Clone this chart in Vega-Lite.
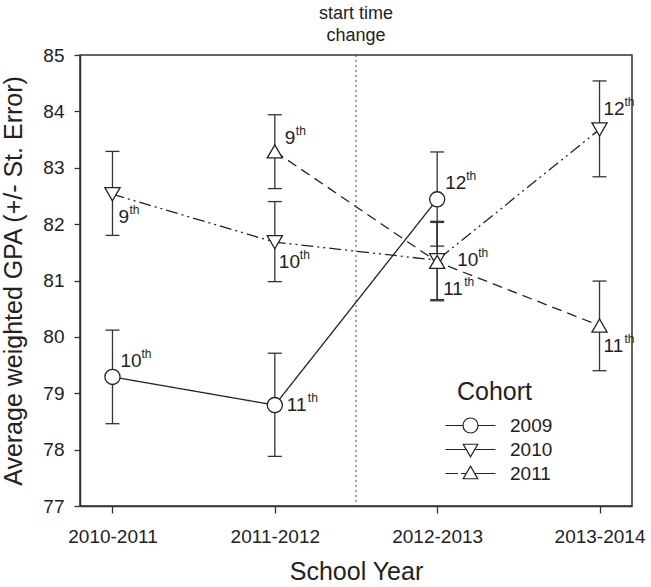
{
  "$schema": "https://vega.github.io/schema/vega-lite/v6.json",
  "width": 552,
  "height": 451,
  "autosize": {"type": "none"},
  "padding": {"left": 80, "top": 55, "right": 19, "bottom": 81},
  "background": "white",
  "config": {
    "font": "Liberation Sans",
    "view": {"stroke": "#333", "strokeWidth": 1.5},
    "axis": {"labelColor": "#222", "titleColor": "#222", "tickColor": "#333", "domainColor": "#333", "grid": false, "titleFontWeight": "normal", "labelFontSize": 19, "titleFontSize": 25, "tickWidth": 1.3, "domainWidth": 1.5},
    "text": {"color": "#222", "align": "left", "baseline": "alphabetic"}
  },
  "title": {"text": ["start time", "change"], "fontSize": 18, "fontWeight": "normal", "color": "#222", "anchor": "middle", "offset": 1, "lineHeight": 22},
  "layer": [
    {
      "data": {"values": [
        {"Cohort": "2009", "Year": "2010-2011", "GPA": 79.29, "Lo": 78.46, "Hi": 80.12, "Grade": "10"},
        {"Cohort": "2009", "Year": "2011-2012", "GPA": 78.79, "Lo": 77.88, "Hi": 79.71, "Grade": "11"},
        {"Cohort": "2009", "Year": "2012-2013", "GPA": 82.44, "Lo": 81.61, "Hi": 83.28, "Grade": "12"},
        {"Cohort": "2010", "Year": "2010-2011", "GPA": 82.53, "Lo": 81.80, "Hi": 83.29, "Grade": "9"},
        {"Cohort": "2010", "Year": "2011-2012", "GPA": 81.68, "Lo": 80.98, "Hi": 82.40, "Grade": "10"},
        {"Cohort": "2010", "Year": "2012-2013", "GPA": 81.36, "Lo": 80.66, "Hi": 82.05, "Grade": "11"},
        {"Cohort": "2010", "Year": "2013-2014", "GPA": 83.68, "Lo": 82.84, "Hi": 84.54, "Grade": "12"},
        {"Cohort": "2011", "Year": "2011-2012", "GPA": 83.29, "Lo": 82.63, "Hi": 83.94, "Grade": "9"},
        {"Cohort": "2011", "Year": "2012-2013", "GPA": 81.33, "Lo": 80.64, "Hi": 82.03, "Grade": "10"},
        {"Cohort": "2011", "Year": "2013-2014", "GPA": 80.20, "Lo": 79.40, "Hi": 80.99, "Grade": "11"}
      ]},
      "encoding": {
        "x": {"field": "Year", "type": "ordinal", "sort": "ascending", "scale": {"type": "point", "padding": 0.2},
              "axis": {"title": "School Year", "labelAngle": 0, "tickSize": 7, "labelPadding": 14, "titlePadding": 13}},
        "y": {"field": "GPA", "type": "quantitative", "scale": {"domain": [77, 85], "nice": false, "zero": false},
              "axis": {"title": "Average weighted GPA (+/- St. Error)", "values": [77, 78, 79, 80, 81, 82, 83, 84, 85], "tickSize": 6, "labelPadding": 10, "titlePadding": 16}}
      },
      "layer": [
        {
          "mark": {"type": "line", "color": "#222", "strokeWidth": 1.3},
          "encoding": {
            "strokeDash": {"field": "Cohort", "type": "nominal", "scale": {"domain": ["2009", "2010", "2011"], "range": [[1, 0], [12, 4, 2, 4, 2, 4], [10, 6]]}, "legend": null}
          }
        },
        {
          "mark": {"type": "rule", "color": "#333", "strokeWidth": 1.3},
          "encoding": {
            "y": {"field": "Lo", "type": "quantitative", "title": "Average weighted GPA (+/- St. Error)"},
            "y2": {"field": "Hi"}
          }
        },
        {
          "mark": {"type": "tick", "orient": "horizontal", "size": 14, "thickness": 1.3, "color": "#333", "opacity": 1},
          "encoding": {"y": {"field": "Lo", "type": "quantitative", "title": "Average weighted GPA (+/- St. Error)"}}
        },
        {
          "mark": {"type": "tick", "orient": "horizontal", "size": 14, "thickness": 1.3, "color": "#333", "opacity": 1},
          "encoding": {"y": {"field": "Hi", "type": "quantitative", "title": "Average weighted GPA (+/- St. Error)"}}
        },
        {
          "mark": {"type": "point", "fill": "white", "stroke": "#222", "strokeWidth": 1.3, "size": 230, "opacity": 1},
          "encoding": {
            "shape": {"field": "Cohort", "type": "nominal", "scale": {"domain": ["2009", "2010", "2011"], "range": ["circle", "triangle-down", "triangle-up"]}, "legend": null}
          }
        },
        {"transform": [{"filter": "datum.Cohort == '2009' && datum.Year != '2011-2012'"}],
         "mark": {"type": "text", "dx": 8, "dy": -10, "fontSize": 19}, "encoding": {"text": {"field": "Grade"}}},
        {"transform": [{"filter": "datum.Cohort == '2009' && datum.Year != '2011-2012'"}],
         "mark": {"type": "text", "text": "th", "dx": 29, "dy": -19, "fontSize": 12}},
        {"transform": [{"filter": "datum.Cohort == '2010' && datum.Year == '2013-2014'"}],
         "mark": {"type": "text", "dx": 4, "dy": -14, "fontSize": 19}, "encoding": {"text": {"field": "Grade"}}},
        {"transform": [{"filter": "datum.Cohort == '2010' && datum.Year == '2013-2014'"}],
         "mark": {"type": "text", "text": "th", "dx": 25, "dy": -23, "fontSize": 12}},
        {"transform": [{"filter": "datum.Cohort == '2011' && datum.Year == '2011-2012'"}],
         "mark": {"type": "text", "dx": 10, "dy": -7, "fontSize": 19}, "encoding": {"text": {"field": "Grade"}}},
        {"transform": [{"filter": "datum.Cohort == '2011' && datum.Year == '2011-2012'"}],
         "mark": {"type": "text", "text": "th", "dx": 21, "dy": -16, "fontSize": 12}},
        {"transform": [{"filter": "datum.Cohort == '2009' && datum.Year == '2011-2012'"}],
         "mark": {"type": "text", "dx": 12, "dy": 6, "fontSize": 19}, "encoding": {"text": {"field": "Grade"}}},
        {"transform": [{"filter": "datum.Cohort == '2009' && datum.Year == '2011-2012'"}],
         "mark": {"type": "text", "text": "th", "dx": 33, "dy": -3, "fontSize": 12}},
        {"transform": [{"filter": "datum.Cohort == '2011' && datum.Year == '2012-2013'"}],
         "mark": {"type": "text", "dx": 20, "dy": 4, "fontSize": 19}, "encoding": {"text": {"field": "Grade"}}},
        {"transform": [{"filter": "datum.Cohort == '2011' && datum.Year == '2012-2013'"}],
         "mark": {"type": "text", "text": "th", "dx": 41, "dy": -5, "fontSize": 12}},
        {"transform": [{"filter": "datum.Cohort == '2010' && datum.Year == '2010-2011'"}],
         "mark": {"type": "text", "dx": 6, "dy": 29, "fontSize": 19}, "encoding": {"text": {"field": "Grade"}}},
        {"transform": [{"filter": "datum.Cohort == '2010' && datum.Year == '2010-2011'"}],
         "mark": {"type": "text", "text": "th", "dx": 17, "dy": 20, "fontSize": 12}},
        {"transform": [{"filter": "(datum.Cohort == '2010' && datum.Year == '2011-2012') || (datum.Cohort == '2011' && datum.Year == '2013-2014')"}],
         "mark": {"type": "text", "dx": 4, "dy": 26, "fontSize": 19}, "encoding": {"text": {"field": "Grade"}}},
        {"transform": [{"filter": "(datum.Cohort == '2010' && datum.Year == '2011-2012') || (datum.Cohort == '2011' && datum.Year == '2013-2014')"}],
         "mark": {"type": "text", "text": "th", "dx": 25, "dy": 17, "fontSize": 12}},
        {"transform": [{"filter": "datum.Cohort == '2010' && datum.Year == '2012-2013'"}],
         "mark": {"type": "text", "dx": 6, "dy": 35, "fontSize": 19}, "encoding": {"text": {"field": "Grade"}}},
        {"transform": [{"filter": "datum.Cohort == '2010' && datum.Year == '2012-2013'"}],
         "mark": {"type": "text", "text": "th", "dx": 27, "dy": 26, "fontSize": 12}},
        {
          "transform": [{"filter": "datum.GPA < 0"}],
          "mark": {"type": "point", "filled": false, "stroke": "#222", "opacity": 1},
          "encoding": {
            "shape": {"field": "Cohort", "type": "nominal",
              "scale": {"domain": ["2009", "2010", "2011"], "range": [
                "M-2,0H-0.6M0.6,0H2M-0.6,0A0.6,0.6,0,1,0,0.6,0A0.6,0.6,0,1,0,-0.6,0Z",
                "M-2,0H-0.35M0.35,0H2M-0.58,-0.42H0.58L0,0.58Z",
                "M-2,0H-1.0M-0.75,0H-0.35M0.35,0H2M-0.58,0.42H0.58L0,-0.58Z"
              ]},
              "legend": {"orient": "none", "legendX": 377, "legendY": 325, "title": "Cohort", "titleFontSize": 25, "titleFontWeight": "normal", "titleColor": "#222", "titleAnchor": "start", "titlePadding": 7,
                "labelFontSize": 19, "labelColor": "#222", "labelOffset": 26, "symbolSize": 625, "symbolStrokeWidth": 1.2, "symbolStrokeColor": "#222", "symbolFillColor": "white", "symbolOpacity": 1, "rowPadding": 0, "padding": 0, "offset": 0}
            }
          }
        }
      ],
      "resolve": {"scale": {"shape": "independent"}}
    },
    {
      "data": {"values": [{"Boundary": 1.5}]},
      "mark": {"type": "rule", "strokeDash": [2, 3], "color": "#444", "strokeWidth": 1},
      "encoding": {
        "x": {"field": "Boundary", "type": "quantitative", "scale": {"domain": [-0.2, 3.2], "nice": false, "zero": false}, "axis": null}
      }
    }
  ],
  "resolve": {"scale": {"x": "independent"}}
}
